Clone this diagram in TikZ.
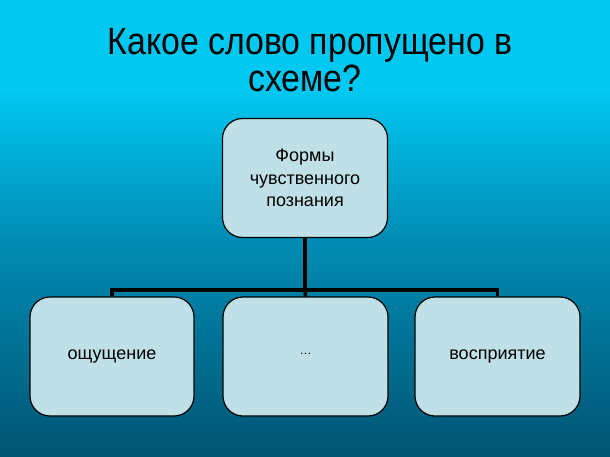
\documentclass[tikz,border=0pt]{standalone}
\usepackage{fontspec}
\setmainfont{Liberation Sans}
\newfontfamily\titlefont[FakeStretch=0.89]{Liberation Sans}
\definecolor{bgtop}{RGB}{0,200,240}
\definecolor{bgmid}{RGB}{0,140,180}
\definecolor{bgbot}{RGB}{0,85,115}
\definecolor{boxfill}{RGB}{190,224,230}
\tikzset{
  card/.style={draw=black, line width=1.2pt, fill=boxfill, rounded corners=20pt,
    minimum width=165pt, minimum height=119pt, align=center, font=\fontsize{18}{22.5}\selectfont, inner sep=0pt},
  link/.style={draw=black, line width=3.5pt}
}
\begin{document}
\begin{tikzpicture}[x=1pt,y=-1pt]
\useasboundingbox (0,0) rectangle (610,456);
\fill[bgtop] (0,0) rectangle (610,90);
\shade[top color=bgtop, bottom color=bgmid] (0,90) rectangle (610,240);
\shade[top color=bgmid, bottom color=bgbot] (0,239.5) rectangle (610,456);
\node[font=\titlefont\fontsize{38}{40}\selectfont, anchor=base] (t1) at (310,54) {Какое слово пропущено в};
\node[font=\titlefont\fontsize{38}{40}\selectfont, anchor=base] (t2) at (305,91) {схеме?};
\node[card] (top) at (305,178) {Формы\\чувственного\\познания};
\node[card, minimum width=164pt] (l) at (112,356.5) {ощущение};
\node[card] (m) at (305.5,356.5) {\raisebox{5pt}{\fontsize{12}{14}\selectfont …}};
\node[card] (r) at (497.5,356.5) {восприятие};
\coordinate (j) at (305,290);
\coordinate (jl) at (l.north |- j);
\coordinate (jr) at (r.north |- j);
\draw[link] (top.south) -- (j);
\draw[link, line cap=rect] (jl) -- (jr);
\draw[link] (jl) -- (l.north);
\draw[link] (j) -- (m.north);
\draw[link] (jr) -- (r.north);
\end{tikzpicture}
\end{document}
